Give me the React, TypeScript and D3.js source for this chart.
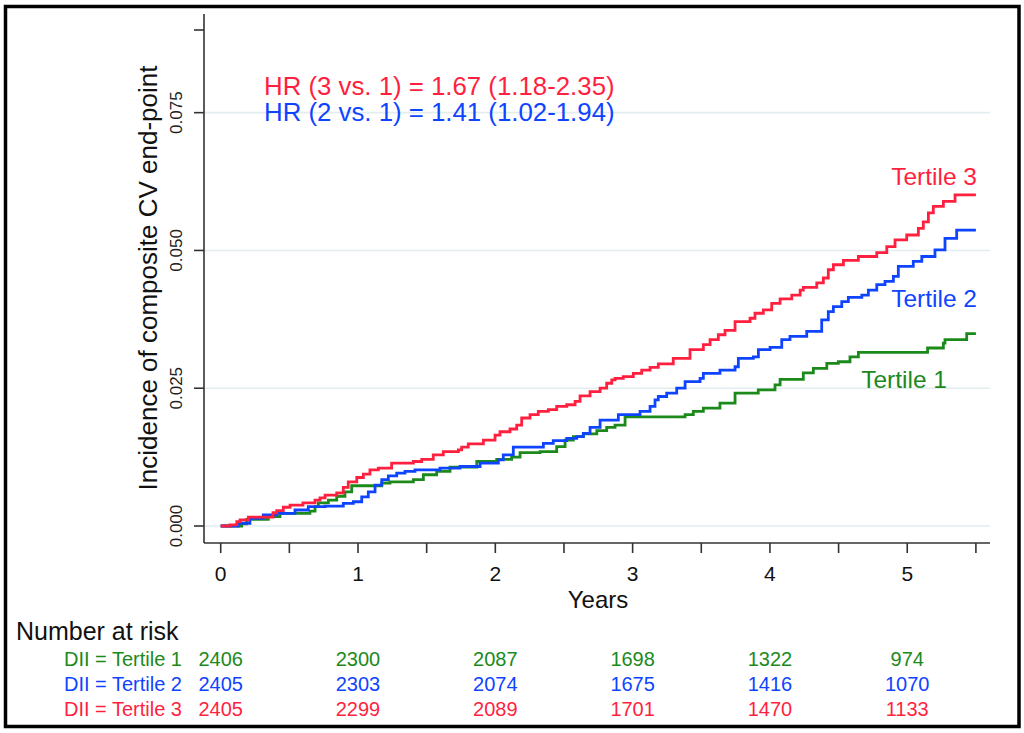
import React from 'react';
import * as d3 from 'd3';

const FONT = '"Liberation Sans", Arial, Helvetica, sans-serif';
const RED = '#ff1f3f';
const BLUE = '#0f44ff';
const GREEN = '#1b8a1b';

// cumulative incidence steps: [years, incidence]
const tertile1: [number, number][] = [
  [0, 0], [0.153, 0.0004], [0.189, 0.0012], [0.347, 0.0017], [0.432, 0.0023], [0.65, 0.0027],
  [0.687, 0.0035], [0.711, 0.0042], [0.784, 0.0047], [0.845, 0.0054], [0.905, 0.0062], [0.954, 0.0073],
  [1.173, 0.0078], [1.233, 0.008], [1.403, 0.0084], [1.476, 0.0093], [1.573, 0.0099], [1.67, 0.0107],
  [1.865, 0.0117], [2.01, 0.0121], [2.119, 0.0125], [2.18, 0.0133], [2.326, 0.0135], [2.447, 0.0144],
  [2.508, 0.0156], [2.568, 0.0162], [2.641, 0.0167], [2.739, 0.0173], [2.811, 0.0179], [2.872, 0.0183],
  [2.945, 0.0198], [3.382, 0.0202], [3.442, 0.0208], [3.515, 0.0214], [3.636, 0.0223], [3.746, 0.0241],
  [3.915, 0.0247], [4.037, 0.0256], [4.074, 0.0266], [4.243, 0.0278], [4.316, 0.0286], [4.414, 0.0295],
  [4.498, 0.0298], [4.583, 0.0307], [4.644, 0.0315], [5.148, 0.0323], [5.263, 0.0332], [5.275, 0.0338],
  [5.433, 0.0349], [5.5, 0.0349],
];

const tertile2: [number, number][] = [
  [0, 0], [0.128, 0.0005], [0.213, 0.0014], [0.31, 0.002], [0.408, 0.0023], [0.541, 0.0029],
  [0.638, 0.0035], [0.76, 0.0036], [0.893, 0.0041], [0.966, 0.0044], [1.027, 0.0053], [1.075, 0.0062],
  [1.124, 0.0074], [1.173, 0.0084], [1.221, 0.0091], [1.282, 0.0096], [1.342, 0.0099], [1.415, 0.0102],
  [1.597, 0.0105], [1.743, 0.0108], [1.889, 0.0114], [2.022, 0.012], [2.058, 0.0129], [2.131, 0.0143],
  [2.35, 0.015], [2.422, 0.0155], [2.52, 0.0159], [2.593, 0.0162], [2.641, 0.0168], [2.69, 0.0179],
  [2.763, 0.0192], [2.896, 0.0202], [3.054, 0.0208], [3.127, 0.0217], [3.163, 0.0229], [3.187, 0.0235],
  [3.248, 0.0241], [3.321, 0.025], [3.382, 0.0262], [3.491, 0.0268], [3.515, 0.0277], [3.636, 0.0283],
  [3.746, 0.0289], [3.77, 0.0304], [3.879, 0.0307], [3.916, 0.032], [4.001, 0.0324], [4.086, 0.0338],
  [4.146, 0.0344], [4.268, 0.0353], [4.377, 0.0374], [4.425, 0.0389], [4.462, 0.0398], [4.523, 0.0407],
  [4.571, 0.0415], [4.669, 0.0419], [4.717, 0.0428], [4.778, 0.0438], [4.838, 0.0444], [4.899, 0.0453],
  [4.935, 0.0471], [5.044, 0.048], [5.106, 0.0489], [5.202, 0.0501], [5.275, 0.0522], [5.36, 0.0537],
  [5.5, 0.0537],
];

const tertile3: [number, number][] = [
  [0, 0], [0.068, 0.0002], [0.117, 0.0008], [0.141, 0.0011], [0.201, 0.0016], [0.381, 0.0024],
  [0.408, 0.0028], [0.456, 0.0034], [0.505, 0.0038], [0.599, 0.0042], [0.687, 0.0047], [0.723, 0.0051],
  [0.76, 0.0056], [0.845, 0.006], [0.893, 0.007], [0.929, 0.008], [0.991, 0.0088], [1.039, 0.0094],
  [1.087, 0.0102], [1.148, 0.0105], [1.245, 0.0114], [1.403, 0.0117], [1.464, 0.0121], [1.548, 0.0129],
  [1.621, 0.0135], [1.731, 0.0138], [1.755, 0.0143], [1.803, 0.0149], [1.913, 0.0156], [1.998, 0.0165],
  [2.034, 0.0171], [2.107, 0.0176], [2.156, 0.0183], [2.192, 0.0196], [2.253, 0.0202], [2.313, 0.0208],
  [2.386, 0.0211], [2.447, 0.0217], [2.52, 0.022], [2.581, 0.0226], [2.617, 0.0236], [2.69, 0.0244],
  [2.763, 0.025], [2.811, 0.0259], [2.848, 0.0265], [2.872, 0.0268], [2.932, 0.0271], [3.005, 0.0277],
  [3.066, 0.0283], [3.127, 0.0288], [3.187, 0.0294], [3.296, 0.0304], [3.418, 0.032], [3.515, 0.0329],
  [3.564, 0.0338], [3.624, 0.0347], [3.673, 0.0355], [3.746, 0.0371], [3.855, 0.0377], [3.891, 0.0386],
  [3.952, 0.0392], [4.013, 0.0404], [4.074, 0.0412], [4.159, 0.0419], [4.22, 0.0428], [4.243, 0.0433],
  [4.341, 0.0441], [4.389, 0.045], [4.425, 0.0465], [4.462, 0.0474], [4.535, 0.0482], [4.644, 0.0489],
  [4.778, 0.0496], [4.851, 0.0507], [4.911, 0.0519], [4.996, 0.0528], [5.081, 0.054], [5.117, 0.0552],
  [5.154, 0.0568], [5.19, 0.058], [5.263, 0.0589], [5.348, 0.0601], [5.5, 0.0601],
];

const yTicks = [0, 0.025, 0.05, 0.075];
const yTickLabels = ['0.000', '0.025', '0.050', '0.075'];
const yTopTick = 0.09;
const xMajorTicks = [0, 1, 2, 3, 4, 5];
const xMinorTicks = [0.5, 1.5, 2.5, 3.5, 4.5, 5.5];

const riskTimes = [0, 1, 2, 3, 4, 5];
const riskLabels = ['DII = Tertile 1', 'DII = Tertile 2', 'DII = Tertile 3'];
const atRisk1 = [2406, 2300, 2087, 1698, 1322, 974];
const atRisk2 = [2405, 2303, 2074, 1675, 1416, 1070];
const atRisk3 = [2405, 2299, 2089, 1701, 1470, 1133];

const hrLines = ['HR (3 vs. 1) = 1.67 (1.18-2.35)', 'HR (2 vs. 1) = 1.41 (1.02-1.94)'];
const seriesNames = ['Tertile 1', 'Tertile 2', 'Tertile 3'];

const W = 1024;
const H = 733;

export default function App() {
  const x = d3.scaleLinear().domain([0, 5.5]).range([220.7, 975.9]);
  const y = d3.scaleLinear().domain([0, 0.09]).range([526, 30]);
  const axisX = 204;
  const axisY = 543;
  const axisTop = 14;
  const axisRight = 990;

  const line = d3.line<[number, number]>()
    .x(d => x(d[0]))
    .y(d => y(d[1]))
    .curve(d3.curveStepAfter);

  const series = [
    { data: tertile1, color: GREEN },
    { data: tertile2, color: BLUE },
    { data: tertile3, color: RED },
  ];
  const risks = [
    { label: riskLabels[0], values: atRisk1, color: GREEN },
    { label: riskLabels[1], values: atRisk2, color: BLUE },
    { label: riskLabels[2], values: atRisk3, color: RED },
  ];

  return (
    <div style={{ position: 'absolute', left: 0, top: 0 }}>
      <svg width={W} height={H} style={{ display: 'block', fontFamily: FONT }}>
        <rect x={0} y={0} width={W} height={H} fill="#fff" />
        <rect x={5.5} y={6.5} width={1013.5} height={720} fill="none" stroke="#000" strokeWidth={3.5} />

        {/* gridlines */}
        {yTicks.map(t => (
          <line key={'g' + t} x1={axisX} x2={axisRight} y1={y(t)} y2={y(t)} stroke="#e3edf0" strokeWidth={1.6} />
        ))}

        {/* y axis */}
        <line x1={axisX} x2={axisX} y1={axisTop} y2={axisY} stroke="#333" strokeWidth={1.6} />
        {[...yTicks, yTopTick].map(t => (
          <line key={'yt' + t} x1={axisX - 10} x2={axisX} y1={y(t)} y2={y(t)} stroke="#333" strokeWidth={1.6} />
        ))}
        {yTicks.map((t, i) => (
          <text key={'yl' + t} transform={`translate(182,${y(t)}) rotate(-90)`} textAnchor="middle"
            fontSize={17} fill="#222">{yTickLabels[i]}</text>
        ))}
        <text transform={`translate(157,278) rotate(-90)`} textAnchor="middle" fontSize={26} fill="#111">
          Incidence of composite CV end-point
        </text>

        {/* x axis */}
        <line x1={axisX} x2={axisRight} y1={axisY} y2={axisY} stroke="#333" strokeWidth={1.6} />
        {[...xMajorTicks, ...xMinorTicks].map(t => (
          <line key={'xt' + t} x1={x(t)} x2={x(t)} y1={axisY} y2={axisY + 10} stroke="#333" strokeWidth={1.6} />
        ))}
        {xMajorTicks.map(t => (
          <text key={'xl' + t} x={x(t)} y={581} textAnchor="middle" fontSize={21} fill="#111">{t}</text>
        ))}
        <text x={598} y={608} textAnchor="middle" fontSize={24} fill="#111">Years</text>

        {/* curves */}
        {series.map((s, i) => (
          <path key={'s' + i} d={line(s.data) || ''} fill="none" stroke={s.color} strokeWidth={2.8}
            strokeLinejoin="miter" />
        ))}

        {/* annotations */}
        <text x={264} y={95} fontSize={25.8} fill={RED}>{hrLines[0]}</text>
        <text x={264} y={121} fontSize={25.8} fill={BLUE}>{hrLines[1]}</text>
        <text x={977} y={185} textAnchor="end" fontSize={24.5} fill={RED}>{seriesNames[2]}</text>
        <text x={977} y={307} textAnchor="end" fontSize={24.5} fill={BLUE}>{seriesNames[1]}</text>
        <text x={947} y={388} textAnchor="end" fontSize={24.5} fill={GREEN}>{seriesNames[0]}</text>

        {/* number at risk */}
        <text x={16} y={640} fontSize={25} fill="#111">Number at risk</text>
        {risks.map((r, i) => (
          <g key={'r' + i}>
            <text x={182} y={666 + i * 25} textAnchor="end" fontSize={20} fill={r.color}>{r.label}</text>
            {r.values.map((v, j) => (
              <text key={j} x={x(riskTimes[j])} y={666 + i * 25} textAnchor="middle" fontSize={20} fill={r.color}>{v}</text>
            ))}
          </g>
        ))}
      </svg>
    </div>
  );
}
